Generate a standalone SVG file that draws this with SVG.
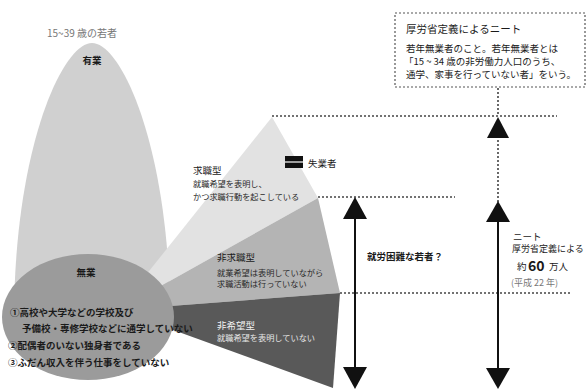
<svg xmlns="http://www.w3.org/2000/svg" width="588" height="390" viewBox="0 0 588 390">
<style>
text{font-family:"Noto Sans CJK JP","Noto Sans",sans-serif;fill:#1a1a1a}
.t{font-size:9.5px}
.s{font-size:8.2px;fill:#2a2a2a}
.b{font-weight:bold}
.w{fill:#f2f2f2}
.g{fill:#777}
.dot{stroke:#444;stroke-width:1.6;stroke-dasharray:2 2;fill:none}
.ln{stroke:#111;stroke-width:2;fill:none}
.ah{fill:#111}
</style>
<rect width="588" height="390" fill="#ffffff"/>
<g id="title"><text x="47" y="37" class="g" style="font-size:10px">15~39 歳の若者</text></g>
<g id="employed">
<path d="M14,320 C14,150 62,43 92,43 C122,43 170,150 170,320 Z" fill="#d0d0d0"/>
<text x="92" y="64" text-anchor="middle" class="t b">有業</text>
</g>
<g id="seeking">
<polygon points="118,310 272,117 318,198" fill="#e2e2e2"/>
<text x="193" y="174" class="t">求職型</text>
<text x="193" y="187" class="s">就職希望を表明し、</text>
<text x="193" y="200" class="s">かつ求職行動を起こしている</text>
</g>
<g id="nonseeking">
<polygon points="118,310 318,198 340,293" fill="#b4b4b4"/>
<text x="217" y="261" class="t">非求職型</text>
<text x="217" y="276" class="s">就業希望は表明していながら</text>
<text x="217" y="287" class="s">求職活動は行っていない</text>
</g>
<g id="nonhope">
<polygon points="118,310 340,293 333,388" fill="#595959"/>
<text x="217" y="329" class="t w">非希望型</text>
<text x="217" y="341" class="s" style="fill:#e6e6e6">就職希望を表明していない</text>
</g>
<g id="unemployed">
<ellipse cx="88" cy="317" rx="86" ry="63" fill="#9b9b9b"/>
<text x="86" y="276" text-anchor="middle" class="t b">無業</text>
<text x="10" y="316" class="t b">①高校や大学などの学校及び</text>
<text x="22" y="332" class="t b">予備校・専修学校などに通学していない</text>
<text x="8" y="349" class="t b">②配偶者のいない独身者である</text>
<text x="8" y="366" class="t b">③ふだん収入を伴う仕事をしていない</text>
</g>
<g id="legend">
<rect x="285" y="156" width="18" height="12" fill="#111"/>
<line x1="285" y1="162" x2="303" y2="162" stroke="#fff" stroke-width="1.2"/>
<text x="308" y="166.5" class="t">失業者</text>
</g>
<g id="definition">
<rect x="395" y="13" width="190" height="74" fill="#fff" stroke="#555" stroke-width="1.2" stroke-dasharray="2 2"/>
<text x="406" y="33" style="font-size:10.5px">厚労省定義によるニート</text>
<text x="406" y="52" class="t">若年無業者のこと。若年無業者とは</text>
<text x="404" y="65" class="t">「15 ~ 34 歳の非労働力人口のうち、</text>
<text x="406" y="78" class="t">通学、家事を行っていない者」をいう。</text>
</g>
<g id="hard">
<text x="367" y="260" class="t b">就労困難な若者？</text>
</g>
<g id="neet">
<text x="513" y="240" class="t">ニート</text>
<text x="512" y="252" style="font-size:9px">厚労省定義による</text>
<text x="517" y="270" class="t">約</text>
<text x="528" y="271" class="b" style="font-size:14px">60</text>
<text x="549" y="270" class="t">万人</text>
<text x="511" y="286" class="g" style="font-size:9px">(平成 22 年)</text>
</g>
<g id="connectors">
<line x1="272" y1="116" x2="557" y2="116" class="dot"/>
<line x1="318" y1="197" x2="455" y2="197" class="dot"/>
<line x1="340" y1="293" x2="572" y2="293" class="dot"/>
<line x1="498" y1="88" x2="498" y2="116" class="dot"/>
<line x1="498" y1="136" x2="498" y2="202" class="dot"/>
<polygon points="498,117 487,138 509,138" class="ah"/>
<line x1="355" y1="215" x2="355" y2="370" class="ln"/>
<polygon points="355,197 343,219 367,219" class="ah"/>
<polygon points="355,389 343,367 367,367" class="ah"/>
<line x1="498" y1="218" x2="498" y2="370" class="ln"/>
<polygon points="498,201 486,222 510,222" class="ah"/>
<polygon points="498,389 486,368 510,368" class="ah"/>
</g>
</svg>
